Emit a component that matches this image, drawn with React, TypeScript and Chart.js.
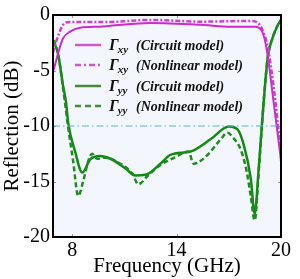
import React, { useEffect, useRef } from "react";
import { Chart, registerables } from "chart.js";

Chart.register(...registerables);

// ---- data ----
const xyCircuitF = [6.9, 7.05, 7.2, 7.48, 7.88, 8.46, 9.6, 10.2, 12.5, 15.4, 17.1, 18.55, 18.8, 18.95, 19.12, 19.3, 19.58, 19.87, 20.0];
const xyCircuitV = [-5.1, -4.3, -3.4, -2.1, -1.5, -1.15, -1.05, -0.97, -0.72, -0.88, -1.06, -1.06, -1.25, -1.6, -2.6, -4.4, -7.9, -11.45, -13.2];

const xyNonlinF = [6.9, 6.96, 7.19, 7.48, 7.88, 10.2, 12.5, 15.4, 18.26, 18.66, 18.95, 19.24, 19.45, 19.69, 19.93, 20.0];
const xyNonlinV = [-3.4, -3.0, -1.9, -0.88, -0.62, -0.62, -0.44, -0.6, -0.53, -0.7, -1.4, -2.9, -5.0, -7.9, -11.45, -12.4];

const yyCircuitF = [6.9, 6.96, 7.19, 7.48, 7.65, 7.77, 8.17, 8.58, 9.04, 9.6, 10.2, 11.05, 11.63, 12.2, 13.07, 13.65, 14.8, 15.95, 17.0, 17.5, 17.86, 18.26, 18.49, 18.72, 19.0, 19.24, 19.53, 19.82, 20.0];
const yyCircuitV = [-2.4, -2.5, -3.5, -6.4, -7.9, -9.7, -12.3, -14.2, -13.0, -12.7, -12.95, -13.8, -14.45, -14.4, -13.4, -12.6, -12.3, -11.2, -10.04, -10.3, -11.7, -14.7, -17.9, -13.8, -7.9, -3.8, -2.0, -0.9, -0.45];

const yyNonlinF = [6.9, 6.96, 7.19, 7.48, 7.77, 8.06, 8.35, 8.63, 8.92, 9.15, 9.44, 9.9, 10.77, 11.46, 11.8, 12.33, 13.07, 13.94, 14.69, 14.97, 15.78, 16.53, 16.93, 17.22, 17.68, 18.03, 18.26, 18.49, 18.72, 19.0, 19.24, 19.53, 19.82, 20.0];
const yyNonlinV = [-2.3, -2.4, -3.5, -6.6, -10.1, -13.2, -16.3, -15.0, -13.2, -12.5, -12.95, -12.85, -13.4, -14.3, -15.25, -14.5, -13.5, -12.8, -12.3, -13.4, -12.6, -11.2, -10.6, -11.0, -12.1, -14.1, -16.3, -18.5, -14.1, -7.9, -3.8, -2.0, -0.9, -0.45];

const refLevel = -10;
const xMin = 6.9;
const xMax = 20;
const xTickValues = [8, 14, 20];
const yTickValues = [0, -5, -10, -15, -20];

const legendMain = ["\u0393", "\u0393", "\u0393", "\u0393"];
const legendSubs = ["xy", "xy", "yy", "yy"];
const legendTexts = ["(Circuit model)", "(Nonlinear model)", "(Circuit model)", "(Nonlinear model)"];

const MAG = "#cc2ccc";
const MAG_DASH = "#d040d0";
const GRN = "#118a11";
const GRN_DASH = "#1f8a1f";
const LEG_MAG = "#d058c8";
const LEG_GRN = "#4a8a38";

const pts = (f: number[], v: number[]) => f.map((x, i) => ({ x, y: v[i] }));

const framePlugin = {
  id: "frame",
  beforeDatasetsDraw(chart: any) {
    const { ctx, chartArea: a } = chart;
    ctx.save();
    ctx.fillStyle = "#f3f7fd";
    ctx.fillRect(a.left, a.top, a.right - a.left, a.bottom - a.top);
    ctx.strokeStyle = "#9a9a9a";
    ctx.lineWidth = 1;
    const xs = chart.scales.x;
    const ys = chart.scales.y;
    xTickValues.forEach((t) => {
      const px = Math.round(xs.getPixelForValue(t)) + 0.5;
      ctx.beginPath();
      ctx.moveTo(px, a.top);
      ctx.lineTo(px, a.top + 3);
      ctx.moveTo(px, a.bottom);
      ctx.lineTo(px, a.bottom - 3);
      ctx.stroke();
    });
    yTickValues.forEach((t) => {
      const py = Math.round(ys.getPixelForValue(t)) + 0.5;
      ctx.beginPath();
      ctx.moveTo(a.left, py);
      ctx.lineTo(a.left + 3, py);
      ctx.moveTo(a.right, py);
      ctx.lineTo(a.right - 3, py);
      ctx.stroke();
    });
    ctx.restore();
  },
  afterDraw(chart: any) {
    const { ctx, chartArea: a } = chart;
    ctx.save();
    ctx.strokeStyle = "#000";
    ctx.lineWidth = 2;
    ctx.strokeRect(a.left, a.top, a.right - a.left, a.bottom - a.top);

    const rows = [45, 65, 86, 106];
    const colors = [LEG_MAG, LEG_MAG, LEG_GRN, LEG_GRN];
    const dashes = [[], [6, 3, 2, 3], [], [6, 4]];
    const x0 = 75;
    const x1 = 101;
    rows.forEach((y, i) => {
      ctx.strokeStyle = colors[i];
      ctx.lineWidth = 2.5;
      ctx.setLineDash(dashes[i]);
      ctx.beginPath();
      ctx.moveTo(x0, y);
      ctx.lineTo(x1, y);
      ctx.stroke();
      ctx.setLineDash([]);
      ctx.fillStyle = "#111";
      ctx.textBaseline = "alphabetic";
      ctx.textAlign = "left";
      ctx.font = 'italic bold 16px "Liberation Serif"';
      ctx.fillText(legendMain[i], 109, y + 5);
      const gw = ctx.measureText(legendMain[i]).width;
      ctx.font = 'italic bold 11px "Liberation Serif"';
      ctx.fillText(legendSubs[i], 108 + gw, y + 8);
      ctx.font = 'italic bold 14px "Liberation Serif"';
      ctx.fillText(legendTexts[i], 136, y + 5);
    });
    ctx.restore();
  },
};

export default function App() {
  const ref = useRef<HTMLCanvasElement | null>(null);
  useEffect(() => {
    if (!ref.current) return;
    const chart = new Chart(ref.current, {
      type: "line",
      data: {
        datasets: [
          {
            label: "ref",
            data: [{ x: xMin, y: refLevel }, { x: xMax, y: refLevel }],
            borderColor: "#5ab2c6",
            borderWidth: 1,
            borderDash: [7, 3, 1.5, 3],
            pointRadius: 0,
          },
          {
            label: "xy circuit",
            data: pts(xyCircuitF, xyCircuitV),
            borderColor: MAG,
            borderWidth: 2,
            pointRadius: 0,
            cubicInterpolationMode: "monotone",
          },
          {
            label: "xy nonlinear",
            data: pts(xyNonlinF, xyNonlinV),
            borderColor: MAG_DASH,
            borderWidth: 2.5,
            borderDash: [5, 2, 2, 2],
            pointRadius: 0,
            cubicInterpolationMode: "monotone",
          },
          {
            label: "yy nonlinear",
            data: pts(yyNonlinF, yyNonlinV),
            borderColor: GRN_DASH,
            borderWidth: 2.5,
            borderDash: [5, 3],
            pointRadius: 0,
            cubicInterpolationMode: "monotone",
          },
          {
            label: "yy circuit",
            data: pts(yyCircuitF, yyCircuitV),
            borderColor: GRN,
            borderWidth: 2.5,
            pointRadius: 0,
            cubicInterpolationMode: "monotone",
          },
        ],
      },
      options: {
        animation: false,
        responsive: false,
        layout: { padding: { top: 10, right: 19, left: 0, bottom: 0 } },
        plugins: { legend: { display: false }, tooltip: { enabled: false } },
        scales: {
          x: {
            type: "linear",
            min: xMin,
            max: xMax,
            afterBuildTicks: (s: any) => {
              s.ticks = xTickValues.map((v) => ({ value: v }));
            },
            afterFit: (s: any) => {
              s.height = 42;
            },
            grid: { display: false, drawTicks: false },
            border: { display: false },
            ticks: {
              padding: 2,
              color: "#000",
              maxRotation: 0,
              font: { family: "Liberation Serif", size: 20 },
            },
            title: {
              display: true,
              text: "Frequency (GHz)",
              color: "#000",
              padding: { top: 0, bottom: 0 },
              font: { family: "Liberation Serif", size: 21 },
            },
          },
          y: {
            type: "linear",
            min: -20,
            max: 0,
            afterBuildTicks: (s: any) => {
              s.ticks = yTickValues.map((v) => ({ value: v }));
            },
            afterFit: (s: any) => {
              s.width = 53;
            },
            grid: { display: false, drawTicks: false },
            border: { display: false },
            ticks: {
              padding: 3,
              color: "#000",
              font: { family: "Liberation Serif", size: 20 },
            },
            title: {
              display: true,
              text: "Reflection (dB)",
              color: "#000",
              padding: 0,
              font: { family: "Liberation Serif", size: 21 },
            },
          },
        },
      },
      plugins: [framePlugin],
    } as any);
    return () => chart.destroy();
  }, []);
  return (
    <div style={{ position: "fixed", left: 0, top: 0, width: 300, height: 279, background: "#fff" }}>
      <canvas ref={ref} width={300} height={279} style={{ width: 300, height: 279 }} />
    </div>
  );
}
